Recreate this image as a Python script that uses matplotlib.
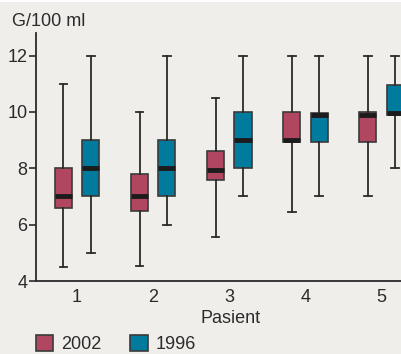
import matplotlib
matplotlib.use("Agg")
import matplotlib.pyplot as plt
from matplotlib.patches import Rectangle

patients = [1, 2, 3, 4, 5]

# 2002 series: whisker low, q1, median, q3, whisker high
low_2002 = [4.5, 4.55, 5.55, 6.45, 7.0]
q1_2002 = [6.6, 6.5, 7.6, 8.95, 8.95]
med_2002 = [7.0, 7.0, 7.95, 9.0, 9.9]
q3_2002 = [8.0, 7.8, 8.6, 10.0, 10.0]
high_2002 = [11.0, 10.0, 10.5, 12.0, 12.0]

# 1996 series
low_1996 = [5.0, 6.0, 7.0, 7.0, 8.0]
q1_1996 = [7.0, 7.0, 8.0, 8.95, 9.88]
med_1996 = [8.0, 8.0, 9.0, 9.9, 9.95]
q3_1996 = [9.0, 9.0, 10.0, 9.95, 10.95]
high_1996 = [12.0, 12.0, 12.0, 12.0, 12.0]

yticks = [4, 6, 8, 10, 12]
series_labels = ["2002", "1996"]
colors = ["#b0465f", "#007b9e"]

bg = "#efeeea"
txt = "#2b2b2b"
fs = 13
plt.rcParams["font.family"] = ["Liberation Sans", "DejaVu Sans"]

fig = plt.figure(figsize=(4.01, 3.54), dpi=100, facecolor=bg)
ax = fig.add_axes([36 / 401, 1 - 281 / 354, 1 - 36 / 401, (281 - 33) / 354])
ax.set_facecolor(bg)
fig.patches.append(Rectangle((0, 1 - 2 / 354), 1, 2 / 354, transform=fig.transFigure,
                             facecolor="white", edgecolor="none"))


def make_stats(lo, q1, med, q3, hi):
    return [dict(whislo=a, q1=b, med=c, q3=d, whishi=e, fliers=[])
            for a, b, c, d, e in zip(lo, q1, med, q3, hi)]


groups = [
    make_stats(low_2002, q1_2002, med_2002, q3_2002, high_2002),
    make_stats(low_1996, q1_1996, med_1996, q3_1996, high_1996),
]
offsets = [-0.18, 0.18]

for stats, off, col in zip(groups, offsets, colors):
    pos = [p + off for p in patients]
    ax.bxp(stats, positions=pos, widths=0.225, patch_artist=True,
           showfliers=False, capwidths=0.1,
           boxprops=dict(facecolor=col, edgecolor="#3a3a3a", linewidth=1.2),
           medianprops=dict(color="#1c1c1c", linewidth=3.5),
           whiskerprops=dict(color="#2a2a2a", linewidth=1.3),
           capprops=dict(color="#2a2a2a", linewidth=1.3))

ax.set_xlim(0.46, 5.256)
ax.set_ylim(4, 12.8)
ax.set_yticks(yticks)
ax.set_xticks(patients)
ax.set_xticklabels([str(p) for p in patients])
ax.tick_params(axis="x", length=0, pad=6, labelsize=fs, labelcolor=txt)
ax.tick_params(axis="y", length=5, width=1.2, color=txt, pad=1,
               labelsize=fs, labelcolor=txt)
for s in ["top", "right"]:
    ax.spines[s].set_visible(False)
for s in ["left", "bottom"]:
    ax.spines[s].set_color(txt)
    ax.spines[s].set_linewidth(1.3)

ax.set_xlabel("Pasient", fontsize=fs, color=txt)
ax.xaxis.set_label_coords((231 - 36) / 365, -0.115)

fig.text(12 / 401, 1 - 21 / 354, "G/100 ml", fontsize=fs, color=txt, va="center")

# legend
handles = [Rectangle((0, 0), 1, 1, facecolor=c, edgecolor="#3a3a3a", linewidth=1.2) for c in colors]
fig.legend(handles, series_labels, loc="lower left", bbox_to_anchor=(36 / 401, 1 / 354),
           borderaxespad=0, borderpad=0,
           ncol=2, frameon=False, fontsize=fs, handlelength=0.95, handleheight=0.95,
           handletextpad=0.45, columnspacing=1.6, labelcolor=txt)

fig.savefig("out.png", dpi=100, facecolor=bg)
